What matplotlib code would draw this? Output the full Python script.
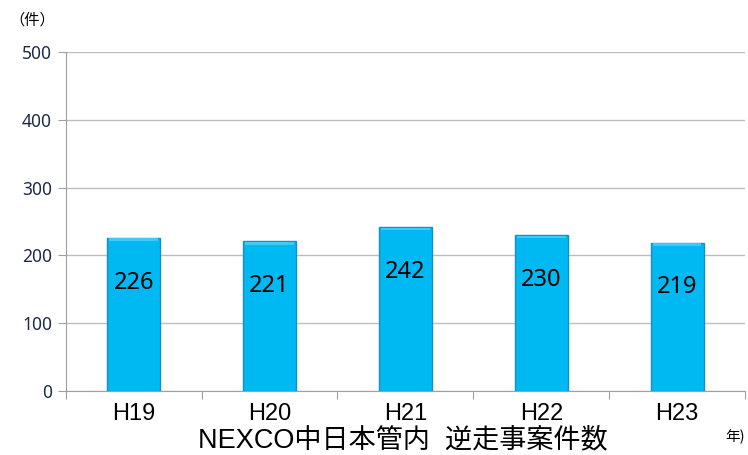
import matplotlib.pyplot as plt
import numpy as np

years = ['H19', 'H20', 'H21', 'H22', 'H23']
cases = [226, 221, 242, 230, 219]
y_ticks = [0, 100, 200, 300, 400, 500]

plt.rcParams['font.family'] = ['Noto Sans CJK JP', 'DejaVu Sans']

fig = plt.figure(figsize=(7.48, 4.55), dpi=100)
ax = fig.add_axes([0.088, 0.1407, 0.908, 0.745])

x = np.arange(len(years))
bars = ax.bar(x, cases, width=0.39, color='#00B9F2', edgecolor='#1690C4',
              linewidth=1.0, zorder=3)

# lighter strip along the top of each bar
for b in bars:
    ax.bar(b.get_x() + b.get_width() / 2, 4, bottom=b.get_height() - 5,
           width=b.get_width() * 0.92, color='#3CCBF7', linewidth=0, zorder=4)

for xi, v in zip(x, cases):
    ax.text(xi, v - 66, str(v), ha='center', va='center', fontsize=17,
            family=['Noto Sans', 'DejaVu Sans'], color='black', zorder=5)

ax.set_xlim(-0.5, len(years) - 0.5)
ax.set_ylim(0, 500)
ax.set_yticks(y_ticks)
ax.set_yticklabels([str(t) for t in y_ticks], fontsize=12.5,
                   family=['Noto Sans', 'DejaVu Sans'], color='#1C2B47')
ax.yaxis.grid(True, color='#BDBDBD', linewidth=1.0, zorder=0)

# category ticks sit between the bars
ax.set_xticks(np.arange(len(years) + 1) - 0.5)
ax.set_xticklabels([])
ax.set_xticks(x, minor=True)
ax.set_xticklabels(years, minor=True, fontsize=17,
                   family=['Liberation Sans', 'DejaVu Sans'])
ax.tick_params(axis='x', which='major', length=6, color='#A0A0A0')
ax.tick_params(axis='x', which='minor', length=0, pad=9)
ax.tick_params(axis='y', length=6, color='#A0A0A0', pad=4)

for side in ['top', 'right']:
    ax.spines[side].set_visible(False)
for side in ['left', 'bottom']:
    ax.spines[side].set_color('#A0A0A0')

fig.text(0.538, 0.032, 'NEXCO中日本管内  逆走事案件数', ha='center', va='center',
         fontsize=19.5, family=['Liberation Sans', 'Noto Sans CJK JP'])
fig.text(0.012, 0.957, '（件）', ha='left', va='center', fontsize=11)
fig.text(0.996, 0.04, '年)', ha='right', va='center', fontsize=10.5)

fig.savefig('out.png', dpi=100)
